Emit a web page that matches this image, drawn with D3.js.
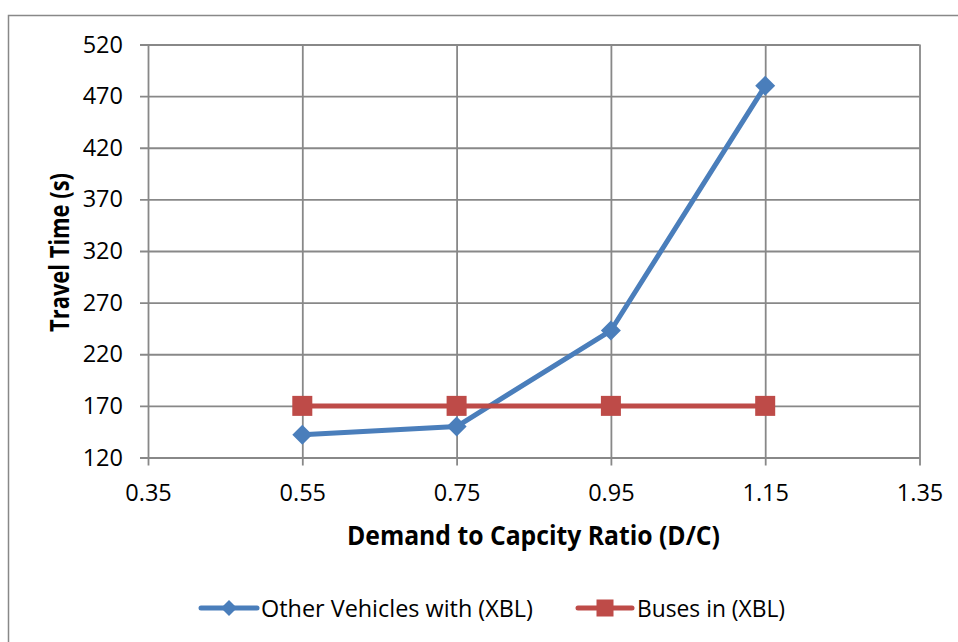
<!DOCTYPE html>
<html>
<head>
<meta charset="utf-8">
<script src="https://cdn.jsdelivr.net/npm/d3@7/dist/d3.min.js"></script>
<style>
  html, body { margin: 0; padding: 0; background: #fff; }
  svg { display: block; font-family: "Open Sans", sans-serif; }
</style>
</head>
<body>
<svg id="chart" width="958" height="642"></svg>
<script>
// ---- data ----
const xValues = [0.55, 0.75, 0.95, 1.15];
const otherVehicles = [142, 150, 243, 480];
const buses = [170, 170, 170, 170];
const seriesNames = ["Other Vehicles with (XBL)", "Buses in (XBL)"];
const xTicks = [0.35, 0.55, 0.75, 0.95, 1.15, 1.35];
const yTicks = [120, 170, 220, 270, 320, 370, 420, 470, 520];
const xTitle = "Demand to Capcity Ratio (D/C)";
const yTitle = "Travel Time (s)";

// ---- layout ----
const svg = d3.select("#chart");
const L = 148, R = 919.5, T = 44.5, B = 457.5;
const gridColor = "#888888";
const blue = "#4A7EBB", red = "#BE4B48";

svg.append("rect")
  .attr("x", 8.5).attr("y", 15.5).attr("width", 1000).attr("height", 700)
  .attr("fill", "#fff").attr("stroke", gridColor).attr("stroke-width", 1.5);

const x = d3.scaleLinear().domain([0.35, 1.35]).range([L, R]);
const y = d3.scaleLinear().domain([120, 520]).range([B, T]);

// y axis + horizontal grid
const yAxis = svg.append("g")
  .attr("transform", `translate(${L - 8},0)`)
  .call(d3.axisLeft(y).tickValues(yTicks).tickFormat(d3.format("d"))
    .tickSize(-(R - L + 8)).tickSizeOuter(0).tickPadding(17));
yAxis.select(".domain").remove();
yAxis.selectAll(".tick line").attr("stroke", gridColor).attr("stroke-width", 1.8);
yAxis.selectAll(".tick text").attr("font-family", "Open Sans").attr("font-size", 23.5)
  .attr("fill", "#000");

// x axis + vertical grid
const xAxis = svg.append("g")
  .attr("transform", `translate(0,${B + 8})`)
  .call(d3.axisBottom(x).tickValues(xTicks).tickFormat(d3.format(".2f"))
    .tickSize(-(B - T + 8)).tickSizeOuter(0).tickPadding(19));
xAxis.select(".domain").remove();
xAxis.selectAll(".tick line").attr("stroke", gridColor).attr("stroke-width", 1.8);
xAxis.selectAll(".tick text").attr("font-family", "Open Sans").attr("font-size", 23.5)
  .attr("fill", "#000");

// axis titles
svg.append("text")
  .attr("x", 533.5).attr("y", 545)
  .attr("text-anchor", "middle")
  .attr("font-weight", "bold").attr("font-size", 26)
  .attr("textLength", 373).attr("lengthAdjust", "spacingAndGlyphs")
  .text(xTitle);
svg.append("text")
  .attr("transform", "translate(69,252.5) rotate(-90)")
  .attr("text-anchor", "middle")
  .attr("font-weight", "bold").attr("font-size", 26)
  .attr("textLength", 159).attr("lengthAdjust", "spacingAndGlyphs")
  .text(yTitle);

// series
const line = d3.line().x(d => x(d[0])).y(d => y(d[1]));
const blueData = xValues.map((v, i) => [v, otherVehicles[i]]);
const redData = xValues.map((v, i) => [v, buses[i]]);

svg.append("path").datum(blueData).attr("d", line)
  .attr("fill", "none").attr("stroke", blue).attr("stroke-width", 5)
  .attr("stroke-linejoin", "round");
const diamond = d3.symbol().type(d3.symbolSquare).size(200);
svg.selectAll(".dia").data(blueData).enter().append("path")
  .attr("d", diamond)
  .attr("transform", d => `translate(${x(d[0])},${y(d[1])}) rotate(45)`)
  .attr("fill", blue);

svg.append("path").datum(redData).attr("d", line)
  .attr("fill", "none").attr("stroke", red).attr("stroke-width", 5);
svg.selectAll(".sq").data(redData).enter().append("rect")
  .attr("x", d => x(d[0]) - 10).attr("y", d => y(d[1]) - 10)
  .attr("width", 20).attr("height", 20)
  .attr("fill", red);

// legend
const legY = 608;
const leg = [
  { x0: 201, x1: 257, color: blue, name: seriesNames[0], tx: 261, tl: 272, shape: "diamond" },
  { x0: 578, x1: 632, color: red, name: seriesNames[1], tx: 637, tl: 148, shape: "square" }
];
leg.forEach(l => {
  svg.append("line").attr("x1", l.x0).attr("x2", l.x1).attr("y1", legY).attr("y2", legY)
    .attr("stroke", l.color).attr("stroke-width", 5).attr("stroke-linecap", "round");
  const cx = (l.x0 + l.x1) / 2;
  if (l.shape === "diamond") {
    svg.append("path").attr("d", d3.symbol().type(d3.symbolSquare).size(128)())
      .attr("transform", `translate(${cx},${legY}) rotate(45)`).attr("fill", l.color);
  } else {
    svg.append("rect").attr("x", cx - 8.5).attr("y", legY - 8.5).attr("width", 17).attr("height", 17)
      .attr("fill", l.color);
  }
  svg.append("text").attr("x", l.tx).attr("y", 616.5)
    .attr("font-size", 23.5)
    .attr("textLength", l.tl).attr("lengthAdjust", "spacingAndGlyphs")
    .text(l.name);
});
</script>
</body>
</html>
